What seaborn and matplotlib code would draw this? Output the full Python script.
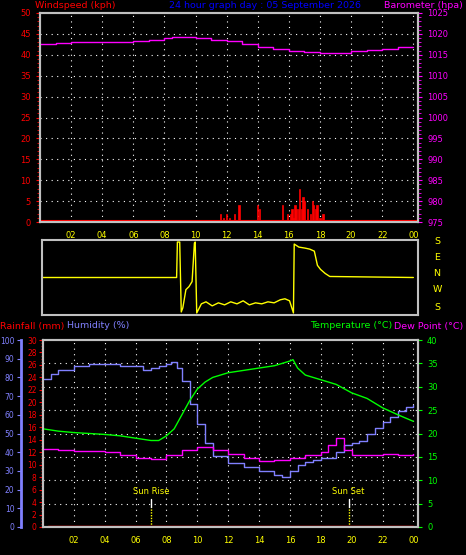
import matplotlib
matplotlib.use("Agg")
import matplotlib.pyplot as plt
import seaborn as sns
import numpy as np
import pandas as pd

sns.set_style("dark")
plt.rcParams['font.family'] = ['DejaVu Sans']

# ---- data ----
baro_h = [0, 1, 2, 3, 4, 5, 6, 7, 8, 8.5, 9, 10, 11, 12, 13, 14, 15, 16, 17, 18, 19, 20, 21, 22, 23, 24]
baro_v = [1017.7, 1017.8, 1018.0, 1018.1, 1018.1, 1018.1, 1018.2, 1018.5, 1019.0, 1019.3, 1019.2, 1018.9, 1018.6, 1018.3, 1017.6, 1016.9, 1016.4, 1016.0, 1015.7, 1015.5, 1015.5, 1015.8, 1016.2, 1016.5, 1016.8, 1016.8]

wind_h = [11.6, 11.8, 12.0, 12.2, 12.5, 12.8, 14.0, 14.1, 15.6, 15.9, 16.1, 16.2, 16.3, 16.4, 16.5, 16.6, 16.7, 16.8, 16.9, 17.0, 17.2, 17.4, 17.5, 17.6, 17.7, 17.8, 18.0, 18.2]
wind_v = [2, 1, 2, 1, 2, 4, 4, 3, 4, 2, 2, 3, 1, 4, 3, 3, 8, 3, 6, 5, 3, 2, 5, 4, 3, 4, 1, 2]

dir_h = [0, 8.7, 8.75, 8.9, 9.0, 9.1, 9.3, 9.5, 9.7, 9.85, 9.9, 10.0, 10.3, 10.6, 11.0, 11.4, 11.8, 12.2, 12.6, 13.0, 13.4, 13.8, 14.2, 14.6, 15.0, 15.4, 15.7, 16.0, 16.25, 16.3, 16.6, 17.0, 17.3, 17.6, 17.8, 18.0, 18.3, 18.6, 24]
dir_v = [0, 0, 175, 175, -170, -150, -60, -45, -20, 170, 175, -175, -130, -120, -140, -125, -135, -120, -130, -115, -135, -125, -130, -120, -125, -110, -105, -115, -175, 165, 150, 145, 140, 130, 60, 40, 20, 5, 0]

hum_h = [0, 0.5, 1, 2, 3, 4, 5, 6, 6.5, 7, 7.5, 8, 8.3, 8.7, 9, 9.5, 10, 10.5, 11, 12, 13, 14, 15, 15.5, 16, 16.5, 17, 17.5, 18, 19, 19.5, 20, 20.5, 21, 21.5, 22, 22.5, 23, 23.5, 24]
hum_v = [79, 82, 84, 86, 87, 87, 86, 86, 84, 85, 86, 87, 88, 85, 78, 66, 55, 45, 38, 34, 32, 30, 28, 27, 30, 33, 35, 36, 37, 40, 44, 45, 46, 50, 53, 56, 59, 62, 64, 65]

temp_h = [0, 1, 2, 3, 4, 5, 6, 7, 7.5, 8, 8.5, 9, 9.5, 10, 10.5, 11, 12, 13, 14, 15, 16, 16.2, 16.5, 17, 18, 19, 20, 21, 22, 23, 24]
temp_v = [21.0, 20.5, 20.2, 20.0, 19.8, 19.5, 19.0, 18.5, 18.5, 19.5, 21.0, 24.0, 27.0, 29.5, 31.0, 32.0, 33.0, 33.5, 34.0, 34.5, 35.5, 35.8, 34.0, 32.5, 31.5, 30.5, 28.7, 27.5, 25.5, 24.0, 22.6]

dew_h = [0, 1, 2, 3, 4, 5, 6, 7, 8, 9, 10, 11, 12, 13, 14, 15, 16, 17, 18, 18.5, 19, 19.5, 20, 21, 22, 23, 24]
dew_v = [16.7, 16.5, 16.3, 16.2, 16.0, 15.5, 14.8, 14.6, 15.5, 16.5, 17.2, 16.5, 15.6, 14.8, 14.2, 14.3, 14.8, 15.4, 16.0, 17.5, 19.0, 16.5, 15.5, 15.3, 15.6, 15.5, 15.7]

rain_h = [0.3, 24]
rain_v = [0, 0]

hours = list(range(2, 25, 2))
hour_labels = ["02", "04", "06", "08", "10", "12", "14", "16", "18", "20", "22", "00"]

W, H = 466, 555
fig = plt.figure(figsize=(W/100, H/100), dpi=100, facecolor='black')

def rect(x0, y0, x1, y1):
    return [x0/W, 1-y1/H, (x1-x0)/W, (y1-y0)/H]

YEL = '#ffff00'
RED = '#ff0000'
MAG = '#ff00ff'
BLU = '#8080ff'
GRN = '#00ff00'
FS = 6
HFS = 6.8

def style(ax):
    ax.set_facecolor('black')
    for s in ax.spines.values():
        s.set_color('#c0c0c0')
        s.set_linewidth(1.5)
    ax.set_xlim(0, 24.3)
    ax.set_xticks(hours)
    ax.set_xticks(np.arange(0, 24.3, 0.5), minor=True)
    ax.tick_params(axis='x', colors='#c0c0c0', labelcolor=YEL, labelsize=FS, length=3, which='both')
    for h in hours:
        ax.axvline(h, color='white', ls=(0, (1, 4)), lw=0.8, zorder=0)
    ax.grid(False)

# ---- top panel ----
ax1 = fig.add_axes(rect(40, 13, 418, 222))
style(ax1)
ax1.set_ylim(0, 50)
ax1.set_yticks(range(0, 51, 5))
ax1.set_yticks(range(0, 51, 1), minor=True)
ax1.tick_params(axis='y', colors=RED, labelsize=FS, which='both', length=3)
ax1.tick_params(axis='y', which='minor', length=2)
for y in range(5, 50, 5):
    ax1.axhline(y, color='white', ls=(0, (1, 4)), lw=0.8, zorder=0)
ax1.bar(wind_h, wind_v, width=0.08, color=RED, edgecolor=RED, linewidth=0.5, zorder=3)
ax1.axhline(0.3, color=RED, lw=1.5, zorder=3)
ax1.set_xticklabels(hour_labels)
ax1b = ax1.twinx()
ax1b.set_ylim(975, 1025)
ax1b.set_yticks(range(975, 1026, 5))
ax1b.set_yticks(range(975, 1026, 1), minor=True)
ax1b.tick_params(axis='y', colors=MAG, labelsize=FS, which='both', length=3)
ax1b.tick_params(axis='y', which='minor', length=2)
for s in ax1b.spines.values():
    s.set_color('#c0c0c0'); s.set_linewidth(1.5)
sns.lineplot(x=baro_h, y=baro_v, ax=ax1b, color=MAG, lw=1, drawstyle='steps-post')
ax1b.grid(False)
fig.text(35/W, 1-0.5/H, "Windspeed (kph)", color=RED, fontsize=HFS, va='top')
fig.text(265/W, 1-0.5/H, "24 hour graph day : 05 September 2026", color='#0000ff', fontsize=HFS, va='top', ha='center')
fig.text(463/W, 1-0.5/H, "Barometer (hpa)", color=MAG, fontsize=HFS, va='top', ha='right')

# ---- direction panel ----
ax2 = fig.add_axes(rect(42, 240, 418, 315))
ax2.set_facecolor('black')
for s in ax2.spines.values():
    s.set_color('#c0c0c0'); s.set_linewidth(1.5)
ax2.set_xlim(0, 24.3)
ax2.set_ylim(-185, 185)
ax2.set_xticks([]); ax2.set_yticks([])
sns.lineplot(x=dir_h, y=dir_v, ax=ax2, color=YEL, lw=1)
for lab, yy in zip(["S", "E", "N", "W", "S"], [242, 258, 273, 290, 307]):
    fig.text(437/W, 1-yy/H, lab, color=YEL, fontsize=HFS, ha='center', va='center')

# ---- bottom panel ----
ax3 = fig.add_axes(rect(43, 340, 418, 527))
style(ax3)
ax3.set_ylim(0, 30)
ax3.set_yticks(range(0, 31, 2))
ax3.set_yticks(np.arange(0, 30.1, 0.5), minor=True)
ax3.tick_params(axis='y', colors=RED, labelsize=5.5, which='both', length=3, pad=1.5)
ax3.tick_params(axis='y', which='minor', length=1.5)
for t in range(5, 40, 5):
    ax3.axhline(t * 30 / 40, color='white', ls=(0, (1, 4)), lw=0.8, zorder=0)
ax3.set_xticklabels(hour_labels)
sns.lineplot(x=rain_h, y=rain_v, ax=ax3, color=RED, lw=2.5, zorder=5)

axh = ax3.twinx()
axh.set_ylim(0, 100)
axh.yaxis.set_ticks_position('left')
axh.spines['left'].set_position(('outward', 16))
axh.spines['left'].set_color(BLU)
axh.spines['left'].set_linewidth(2)
for k in ['right', 'top', 'bottom']:
    axh.spines[k].set_visible(False)
axh.set_yticks(range(0, 101, 10))
axh.tick_params(axis='y', colors=BLU, labelsize=5.5, length=3, pad=1.5)
axh.grid(False)
sns.lineplot(x=hum_h, y=hum_v, ax=axh, color=BLU, lw=1, drawstyle='steps-post')

axt = ax3.twinx()
axt.set_ylim(0, 40)
axt.set_yticks(range(0, 41, 5))
axt.tick_params(axis='y', colors=GRN, labelsize=FS, length=3)
for s in axt.spines.values():
    s.set_color('#c0c0c0'); s.set_linewidth(1.5)
axt.grid(False)
sns.lineplot(x=temp_h, y=temp_v, ax=axt, color=GRN, lw=1)
sns.lineplot(x=dew_h, y=dew_v, ax=axt, color=MAG, lw=1, drawstyle='steps-post')

# sunrise / sunset
for hh, lab in [(7.0, "Sun Rise"), (19.8, "Sun Set")]:
    ax3.plot([hh, hh], [0, 3.2], color=YEL, ls=(0, (1, 1)), lw=1)
    ax3.plot([hh, hh], [3.2, 4.5], color='white', lw=1)
    ax3.text(hh, 4.9, lab, color=YEL, fontsize=FS, ha='center', va='bottom')

fig.text(0/W, 1-326/H, "Rainfall (mm)", color=RED, fontsize=HFS, va='center')
fig.text(67/W, 1-326/H, "Humidity (%)", color=BLU, fontsize=HFS, va='center')
fig.text(392/W, 1-326/H, "Temperature (°C)", color=GRN, fontsize=HFS, va='center', ha='right')
fig.text(463/W, 1-326/H, "Dew Point (°C)", color=MAG, fontsize=HFS, va='center', ha='right')

fig.savefig("out.png", dpi=100, facecolor='black')
